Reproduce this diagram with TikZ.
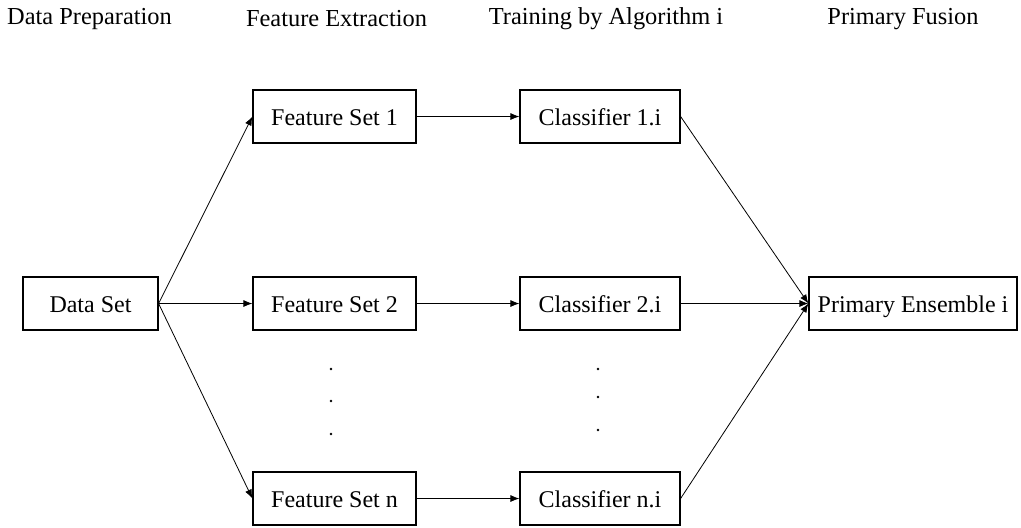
\documentclass[tikz,border=0pt]{standalone}
\usepackage{fontspec}
\setmainfont{Liberation Serif}
\usetikzlibrary{arrows.meta,positioning}

\tikzset{
    box/.style={draw, line width=0.6pt, minimum height=26.5pt, inner sep=2pt, text height=9.5pt, text depth=1pt, font=\fontsize{12}{14}\selectfont},
    link/.style={line width=0.4pt, -{Latex[length=4.5pt,width=3.5pt]}},
    head/.style={font=\fontsize{12.2}{14}\selectfont}
}

\begin{document}
\begin{tikzpicture}[x=0.5pt, y=-0.5pt]
    \useasboundingbox (0,0) rectangle (1021,527);
    % Stage titles
    \node[head] (hprep) at (89.5,19) {Data Preparation};
    \node[head] (hfeat) at (336.5,19) {Feature Extraction};
    \node[head] (htrain) at (606,19) {Training by Algorithm i};
    \node[head] (hfuse) at (903,19) {Primary Fusion};

    % Boxes
    \node[box, minimum width=67.5pt] (data) at (90.5,303.5) {Data Set};
    \foreach \k/\y in {1/116.5, 2/303.5, n/498.5} {
        \node[box, minimum width=81.5pt] (feat\k) at (334.5,\y) {Feature Set \k};
        \node[box, minimum width=80pt] (clf\k) at (600,\y) {Classifier \k.i};
    }
    \node[box, minimum width=104pt] (ens) at (913,303.5) {Primary Ensemble i};

    % Dots
    \foreach \y in {369,401,434} {
        \fill (331,\y) circle (1.4);
    }
    \foreach \y in {369,397,430} {
        \fill (598,\y) circle (1.4);
    }

    % Connectors
    \foreach \k in {1,2,n} {
        \draw[link] (data.east) -- (feat\k.west);
        \draw[link] (feat\k) -- (clf\k);
        \draw[link] (clf\k.east) -- (ens.west);
    }
\end{tikzpicture}
\end{document}
